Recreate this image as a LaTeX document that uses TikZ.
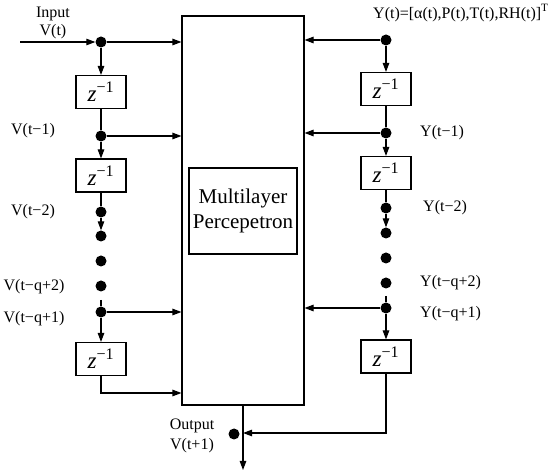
\documentclass[tikz,border=0pt]{standalone}
\usepackage{fontspec}
\setmainfont{Liberation Serif}
\usetikzlibrary{arrows.meta, positioning, calc}

\begin{document}
\begin{tikzpicture}[
    x=1pt, y=-1pt,
    wire/.style={line width=1.1pt},
    arrow/.style={wire, -{Triangle[length=9pt, width=6.5pt]}},
    delay/.style={rectangle, draw, wire, minimum width=50pt, minimum height=33pt, inner sep=0pt, font=\fontsize{23}{23}\selectfont},
    dot/.style={circle, fill, inner sep=0pt, minimum size=11pt},
    lbl/.style={font=\fontsize{16}{18}\selectfont, inner sep=0pt}
]
    \useasboundingbox (0,0) rectangle (550,476);

    % network block
    \node[draw, wire, minimum width=122pt, minimum height=389pt] (mlp) at (243,210.5) {};
    \node[draw, wire, minimum width=108pt, minimum height=86pt, align=center, font=\fontsize{21}{25}\selectfont] (core) at (243,211) {Multilayer\\Percepetron};

    % input taps
    \coordinate (vin) at (20,42);
    \node[dot] (v0) at (101,42) {};
    \node[delay] (d1) at (101,92) {\itshape z\textsuperscript{\upshape −1}};
    \node[dot] (v1) at (101,136) {};
    \node[delay] (d2) at (101,175.5) {\itshape z\textsuperscript{\upshape −1}};
    \node[dot] (v2) at (101,212) {};
    \node[dot] (v3) at (101,236) {};
    \node[dot] (v4) at (101,261) {};
    \node[dot] (vq2) at (101,286) {};
    \coordinate (vgap) at (101,300);
    \node[dot] (vq1) at (101,312) {};
    \node[delay] (d3) at (101,359) {\itshape z\textsuperscript{\upshape −1}};
    \coordinate (vret) at (101,393);

    \draw[arrow] (vin) -- (v0);
    \draw[arrow] (v0) -- (v0 -| mlp.west);
    \draw[arrow] (v0) -- (d1);
    \draw[wire] (d1) -- (v1);
    \draw[arrow] (v1) -- (v1 -| mlp.west);
    \draw[arrow] (v1) -- (d2);
    \draw[wire] (d2) -- (v2);
    \draw[arrow] (v2) -- (v3);
    \draw[wire] (vgap) -- (vq1);
    \draw[arrow] (vq1) -- (vq1 -| mlp.west);
    \draw[arrow] (vq1) -- (d3);
    \draw[arrow] (d3) -- (vret) -- (vret -| mlp.west);

    \node[lbl] (lin) at (53,14) {Input};
    \node[lbl] (lv0) at (53,32) {V(t)};
    \node[lbl] (lv1) at (33,131) {V(t−1)};
    \node[lbl] (lv2) at (33,212) {V(t−2)};
    \node[lbl] (lvq2) at (34,287) {V(t−q+2)};
    \node[lbl] (lvq1) at (34,319) {V(t−q+1)};

    % feedback taps
    \node[dot] (y0) at (386,40) {};
    \node[delay] (r1) at (386,89) {\itshape z\textsuperscript{\upshape −1}};
    \node[dot] (y1) at (386,133) {};
    \node[delay] (r2) at (386,173) {\itshape z\textsuperscript{\upshape −1}};
    \node[dot] (y2) at (386,208) {};
    \node[dot] (y3) at (386,233) {};
    \node[dot] (y4) at (386,258) {};
    \node[dot] (yq2) at (386,283) {};
    \coordinate (ygap) at (386,296);
    \node[dot] (yq1) at (386,308) {};
    \node[delay] (r3) at (386,356.5) {\itshape z\textsuperscript{\upshape −1}};
    \coordinate (yret) at (386,433);

    \draw[arrow] (y0) -- (y0 -| mlp.east);
    \draw[arrow] (y0) -- (r1);
    \draw[wire] (r1) -- (y1);
    \draw[arrow] (y1) -- (y1 -| mlp.east);
    \draw[arrow] (y1) -- (r2);
    \draw[wire] (r2) -- (y2);
    \draw[arrow] (y2) -- (y3);
    \draw[wire] (ygap) -- (yq1);
    \draw[arrow] (yq1) -- (yq1 -| mlp.east);
    \draw[arrow] (yq1) -- (r3);

    \node[lbl, anchor=west] (ly) at (373,13) {Y(t)=[α(t),P(t),T(t),RH(t)]\textsuperscript{T}};
    \node[lbl, anchor=west] (ly1) at (420,133) {Y(t−1)};
    \node[lbl, anchor=west] (ly2) at (423,208) {Y(t−2)};
    \node[lbl, anchor=west] (lyq2) at (420,283) {Y(t−q+2)};
    \node[lbl, anchor=west] (lyq1) at (420,314) {Y(t−q+1)};

    % output
    \coordinate (vout) at (243,470);
    \node[dot] (vnext) at (234,434) {};
    \draw[arrow] (mlp.south) -- (vout);
    \draw[arrow] (r3) -- (yret) -- (yret -| mlp.south);
    \node[lbl] (lout) at (192,426) {Output};
    \node[lbl] (lvnext) at (192,446) {V(t+1)};

\end{tikzpicture}
\end{document}
